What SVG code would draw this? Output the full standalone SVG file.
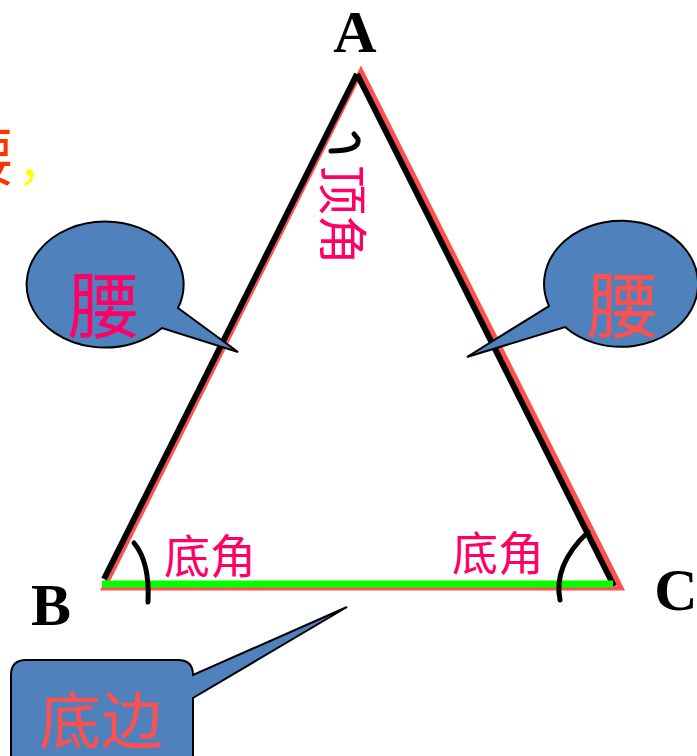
<svg xmlns="http://www.w3.org/2000/svg" width="697" height="756" viewBox="0 0 697 756">
<style>
.cj{font-family:"Liberation Serif","Noto Sans CJK SC",serif;}
.lbl{font-family:"Liberation Serif",serif;font-weight:bold;font-size:60px;fill:#000;text-anchor:middle;}
.bub{fill:#4F81BD;stroke:#000;stroke-width:2;}
.arc{fill:none;stroke:#000;stroke-width:5;stroke-linecap:round;}
</style>
<rect width="697" height="756" fill="#fff"/>
<g id="partial-title">
<text class="cj" x="14" y="180" font-size="64" fill="#FF3300" text-anchor="end">腰</text>
<text class="cj" x="18" y="180" font-size="48" fill="#FFFF00">，</text>
</g>
<g id="connectors">
<polygon points="361,71 104,588 621,588" fill="none" stroke="#FF5050" stroke-width="5" stroke-linejoin="miter"/>
<line x1="357" y1="74" x2="104" y2="579" stroke="#000" stroke-width="6"/>
<line x1="357" y1="74" x2="614" y2="586" stroke="#000" stroke-width="6"/>
<line x1="102" y1="584" x2="613" y2="584" stroke="#00FF00" stroke-width="7"/>
<path class="arc" d="M331,151 C347,151 360,148 358,139 L354,134"/>
<path class="arc" d="M134,543 Q150,562 148,602" stroke-width="6"/>
<path class="arc" d="M588,532 Q553,565 560,600" stroke-width="6"/>
</g>
<g id="node-A"><text class="lbl" x="355" y="52">A</text></g>
<g id="node-B"><text class="lbl" x="51" y="625">B</text></g>
<g id="node-C"><text class="lbl" x="676" y="610">C</text></g>
<g id="label-apex">
<text class="cj" transform="translate(324,165) rotate(90)" font-size="50" fill="#FF0066">顶角</text>
</g>
<g id="label-base-left"><text class="cj" x="164" y="573" font-size="46" fill="#FF0066">底角</text></g>
<g id="label-base-right"><text class="cj" x="452" y="570" font-size="46" fill="#FF0066">底角</text></g>
<g id="bubble-left">
<path class="bub" d="M178,308 A78.5,63 0 1 0 162,328 L238,352 Z"/>
<text class="cj" x="104" y="332" font-size="72" fill="#FF0066" text-anchor="middle">腰</text>
</g>
<g id="bubble-right">
<path class="bub" d="M549,306 A77,63 0 1 1 565,327 L467,357 Z"/>
<text class="cj" x="623" y="332" font-size="72" fill="#FF5050" text-anchor="middle">腰</text>
</g>
<g id="callout-base">
<path class="bub" d="M26,660 H178 Q193,660 193,675 L347,607 L193,698 V780 H11 V675 Q11,660 26,660 Z"/>
<text class="cj" x="101" y="744" font-size="62" fill="#FF5050" text-anchor="middle">底边</text>
</g>
</svg>
